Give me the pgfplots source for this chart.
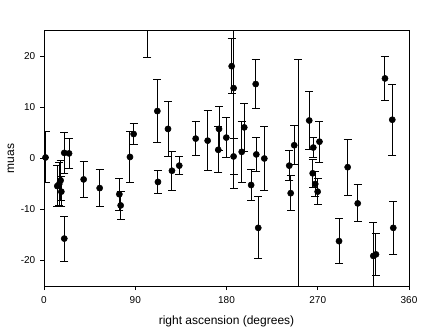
\documentclass[border=0pt]{standalone}
\usepackage{fontspec}
\setmainfont{Liberation Sans}
\usepackage{pgfplots}
\pgfplotsset{compat=1.18}
\usepackage{pgfplotstable}

% right ascension (deg), offset (muas), error
\pgfplotstableread{
x      y       e
1.5    0.2     5.0
13.1   -5.4    4.0
15.0   -5.0    4.2
16.4   -4.3    4.0
17.1   -6.5    3.0
20.0   1.1     4.0
24.7   1.0     3.0
20.0   -15.7   4.4
39.1   -4.1    3.5
54.9   -5.8    3.6
74.3   -7.0    3.1
75.6   -9.2    2.8
84.8   0.3     5.0
88.4   4.8     2.0
101.9  30.0    10.1
111.8  9.3     6.2
112.4  -4.6    2.2
122.3  5.8     5.4
126.2  -2.4    3.8
133.4  -1.4    1.8
149.6  3.9     3.3
161.4  3.5     5.9
172.6  5.8     4.3
171.9  1.7     4.5
179.8  4.1     4.0
185.1  18.1    5.4
187.0  13.8    19.6
187.0  0.4     3.6
195.0  1.3     6.0
197.5  6.1     4.7
204.3  -5.2    3.1
208.8  14.6    4.75
209.4  0.8     3.4
211.3  -13.6   6.1
217.3  0.0     6.2
241.9  -1.4    3.0
243.3  -6.8    3.4
246.8  2.6     3.8
250.8  -28.0   47.5
261.6  7.45    5.6
265.6  2.15    2.0
265.0  -2.9    2.8
267.5  -5.0    2.5
269.9  -6.5    2.5
271.7  3.3     4.0
291.0  -16.2   4.4
299.5  -1.7    5.5
309.4  -8.8    3.65
324.8  -19.1   6.6
327.4  -18.8   4.15
336.3  15.7    4.3
343.5  7.6     7.0
344.5  -13.6   5.25
}\radec

\begin{document}
\begin{tikzpicture}
\begin{axis}[
  scale only axis, width=273.75pt, height=191.25pt,
  xmin=0, xmax=360, ymin=-25, ymax=25,
  xtick={0,90,180,270,360}, ytick={-20,-10,0,10,20},
  tick pos=left, tick align=outside, major tick length=3pt,
  tick style={black, line width=0.6pt},
  axis line style={line width=0.75pt},
  ticklabel style={font=\fontsize{7.5}{9}\selectfont},
  xticklabel style={yshift=-1pt},
  /pgf/number format/assume math mode=true,
  xlabel={right ascension (degrees)}, ylabel={muas},
  label style={font=\fontsize{9}{11}\selectfont},
  xlabel style={yshift=-3pt},
  ylabel style={yshift=-2pt},
  clip mode=global]
\addplot[only marks, mark=*, mark size=2.3pt, black,
  error bars/.cd, y dir=both, y explicit,
  error bar style={line width=0.75pt},
  error mark options={rotate=90, mark size=3pt, line width=0.75pt}]
  table[x=x, y=y, y error=e] {\radec};
\end{axis}
\path (current axis.south west) ++(-33pt,-33.75pt) coordinate (bl);
\path (current axis.north east) ++(20.25pt,23.25pt) coordinate (tr);
\path (bl) rectangle (tr);
\end{tikzpicture}
\end{document}
